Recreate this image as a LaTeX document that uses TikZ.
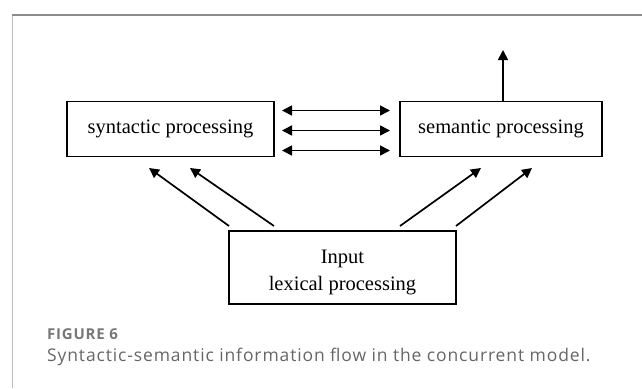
\documentclass[tikz,border=0pt]{standalone}
\usepackage{fontspec}
\setmainfont{Liberation Serif}
\newfontfamily\capfont[LetterSpace=5]{Open Sans}
\usetikzlibrary{arrows.meta}
\definecolor{capgray}{HTML}{666666}
\definecolor{figgray}{HTML}{777777}
\definecolor{frametop}{HTML}{8C8C8C}
\definecolor{frameleft}{HTML}{BBBBBB}
\begin{document}
\begin{tikzpicture}[x=1pt,y=-1pt,
  procbox/.style={draw,line width=1.1pt,inner sep=0pt,font=\fontsize{20.5}{27}\selectfont},
  boxtext/.style={inner sep=0pt,font=\fontsize{20.5}{27}\selectfont},
  flow/.style={line width=1.7pt,-{Triangle[length=10pt,width=10pt]}},
  twoway/.style={line width=1.7pt,{Triangle[length=10pt,width=10pt]}-{Triangle[length=10pt,width=10pt]}}]
\useasboundingbox (0,0) rectangle (642,388);
\draw[frameleft,line width=1.2pt] (12.7,388) -- (12.7,15);
\draw[frametop,line width=1.2pt] (12.1,15) -- (642,15);
\node[procbox,minimum width=207pt,minimum height=55pt] (syn) at (170.5,129) {\raisebox{-1.5pt}{syntactic processing}};
\node[procbox,minimum width=202pt,minimum height=55pt] (sem) at (501,129) {\raisebox{-1.5pt}{semantic processing}};
\node[procbox,minimum width=227pt,minimum height=73pt] (inp) at (342.5,267.5) {};
\node[boxtext,anchor=base] (inp1) at (342.5,263) {Input};
\node[boxtext,anchor=base] (inp2) at (342.5,290) {lexical processing};
\coordinate (a1s) at (282,110.5); \coordinate (a1e) at (390,110.5);
\coordinate (a2s) at (282,130.5); \coordinate (a2e) at (390,130.5);
\coordinate (a3s) at (282,150.5); \coordinate (a3e) at (390,150.5);
\draw[twoway] (a1s) -- (a1e);
\draw[twoway] (a2s) -- (a2e);
\draw[twoway] (a3s) -- (a3e);
\coordinate (up) at (503,50);
\draw[flow] (sem.north -| up) -- (up);
\coordinate (t1) at (149,168); \coordinate (t2) at (190,168);
\coordinate (t3) at (481,168); \coordinate (t4) at (532,168);
\coordinate (s1) at (229,226); \coordinate (s2) at (274,226);
\coordinate (s3) at (400,226); \coordinate (s4) at (456,226);
\draw[flow] (s1) -- (t1);
\draw[flow] (s2) -- (t2);
\draw[flow] (s3) -- (t3);
\draw[flow] (s4) -- (t4);
\node[anchor=base west,inner sep=0pt,text=figgray,font=\capfont\bfseries\fontsize{15}{17}\selectfont] (fig) at (47,339) {FIGURE 6};
\node[anchor=base west,inner sep=0pt,text=capgray,font=\capfont\fontsize{17.5}{20}\selectfont] (cap) at (47,361) {Syntactic-semantic information flow in the concurrent model.};
\end{tikzpicture}
\end{document}
